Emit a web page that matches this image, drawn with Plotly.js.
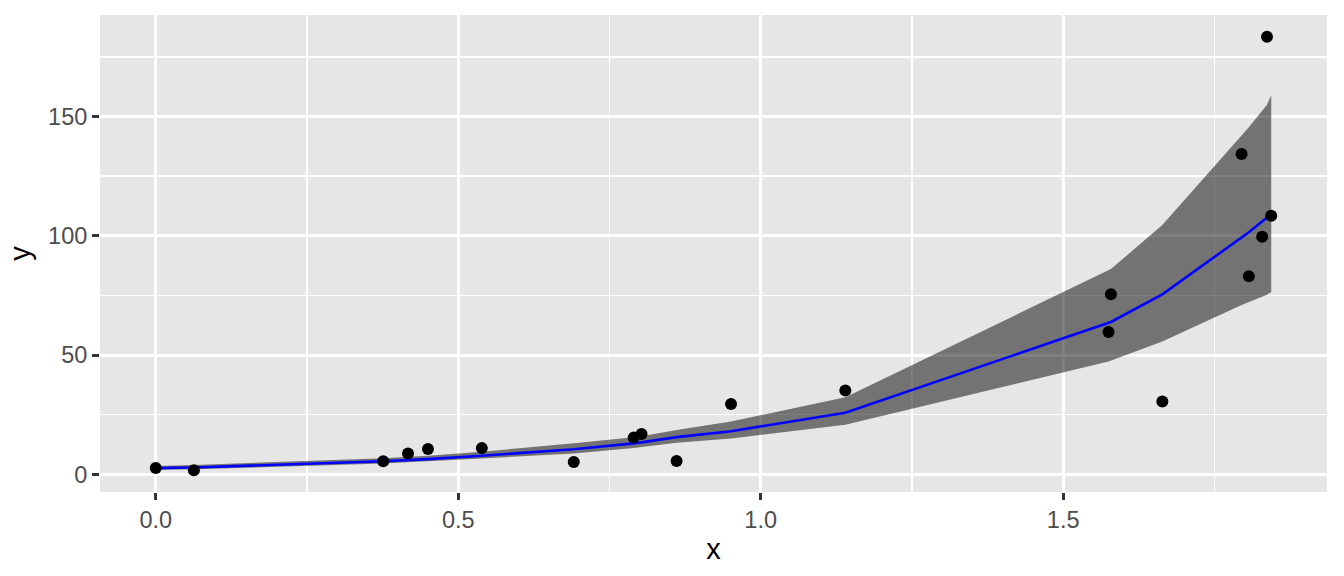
<!DOCTYPE html>
<html>
<head>
<meta charset="utf-8">
<script src="https://cdn.plot.ly/plotly-3.0.1.min.js"></script>
<style>html,body{margin:0;padding:0;background:#fff;}#chart{width:1344px;height:576px;}</style>
</head>
<body>
<div id="chart"></div>
<script>
// observed points
const pointX = [0.000, 0.063, 0.376, 0.417, 0.450, 0.539, 0.691, 0.790, 0.803, 0.861, 0.951, 1.140, 1.575, 1.579, 1.664, 1.795, 1.807, 1.829, 1.837, 1.844];
const pointY = [2.7, 1.7, 5.5, 8.7, 10.6, 11.0, 5.2, 15.4, 16.9, 5.6, 29.5, 35.2, 59.7, 75.5, 30.5, 134.3, 83.1, 99.6, 183.5, 108.4];
// fitted curve and confidence band (at the same x values)
const fitY   = [2.6, 2.9, 5.5, 6.0, 6.4, 7.8, 10.5, 13.0, 13.4, 15.6, 18.1, 25.8, 63.4, 63.9, 75.5, 99.5, 101.5, 106.0, 107.5, 109.0];
const lowerY = [1.9, 2.1, 4.5, 4.9, 5.3, 6.6, 8.7, 11.0, 11.3, 13.3, 15.0, 20.8, 47.3, 47.6, 55.7, 71.0, 72.3, 74.5, 75.3, 76.5];
const upperY = [3.5, 3.9, 6.8, 7.3, 7.8, 9.5, 13.0, 15.6, 16.0, 18.6, 22.2, 32.3, 85.3, 86.1, 104.5, 142.0, 145.5, 152.5, 155.0, 159.0];
// axis ticks
const xTicks = [0, 0.5, 1, 1.5];
const xTickLabels = ['0.0', '0.5', '1.0', '1.5'];
const xMinor = [0.25, 0.75, 1.25, 1.75];
const yTicks = [0, 50, 100, 150];
const yTickLabels = ['0', '50', '100', '150'];
const yMinor = [25, 75, 125, 175];

const FONT = 'Liberation Sans, Arial, Helvetica, sans-serif';

const bandX = pointX.concat(pointX.slice().reverse());
const bandY = upperY.concat(lowerY.slice().reverse());

const traces = [
  {x: bandX, y: bandY, type: 'scatter', mode: 'lines', fill: 'toself',
   fillcolor: 'rgba(0,0,0,0.5)', line: {width: 0, color: 'rgba(0,0,0,0)'}, hoverinfo: 'skip'},
  {x: pointX, y: fitY, type: 'scatter', mode: 'lines', line: {color: '#0000FF', width: 2.6}},
  {x: pointX, y: pointY, type: 'scatter', mode: 'markers', marker: {color: '#000000', size: 12}}
];

const axisCommon = {
  showgrid: true, gridcolor: '#FFFFFF', gridwidth: 2.8,
  zeroline: false, showline: false,
  ticks: 'outside', ticklen: 7, tickwidth: 2.8, tickcolor: '#333333',
  tickfont: {family: FONT, size: 23.5, color: '#4D4D4D'},
  fixedrange: true
};

const layout = {
  width: 1344, height: 576,
  margin: {l: 100, r: 17, t: 15, b: 84},
  paper_bgcolor: '#FFFFFF', plot_bgcolor: '#E6E6E6',
  showlegend: false,
  font: {family: FONT},
  xaxis: Object.assign({}, axisCommon, {
    range: [-0.0922, 1.9362], tickmode: 'array', tickvals: xTicks, ticktext: xTickLabels,
    minor: {tickmode: 'array', tickvals: xMinor, showgrid: true, gridcolor: '#FFFFFF', gridwidth: 1.5, ticks: ''},
    title: {text: 'x', font: {family: FONT, size: 29, color: '#000000'}, standoff: 6}
  }),
  yaxis: Object.assign({}, axisCommon, {
    range: [-7.4, 192.6], tickmode: 'array', tickvals: yTicks, ticktext: yTickLabels,
    minor: {tickmode: 'array', tickvals: yMinor, showgrid: true, gridcolor: '#FFFFFF', gridwidth: 1.5, ticks: ''},
    title: {text: 'y', font: {family: FONT, size: 29, color: '#000000'}, standoff: 8}
  })
};

Plotly.newPlot('chart', traces, layout, {displayModeBar: false, staticPlot: true});
</script>
</body>
</html>
